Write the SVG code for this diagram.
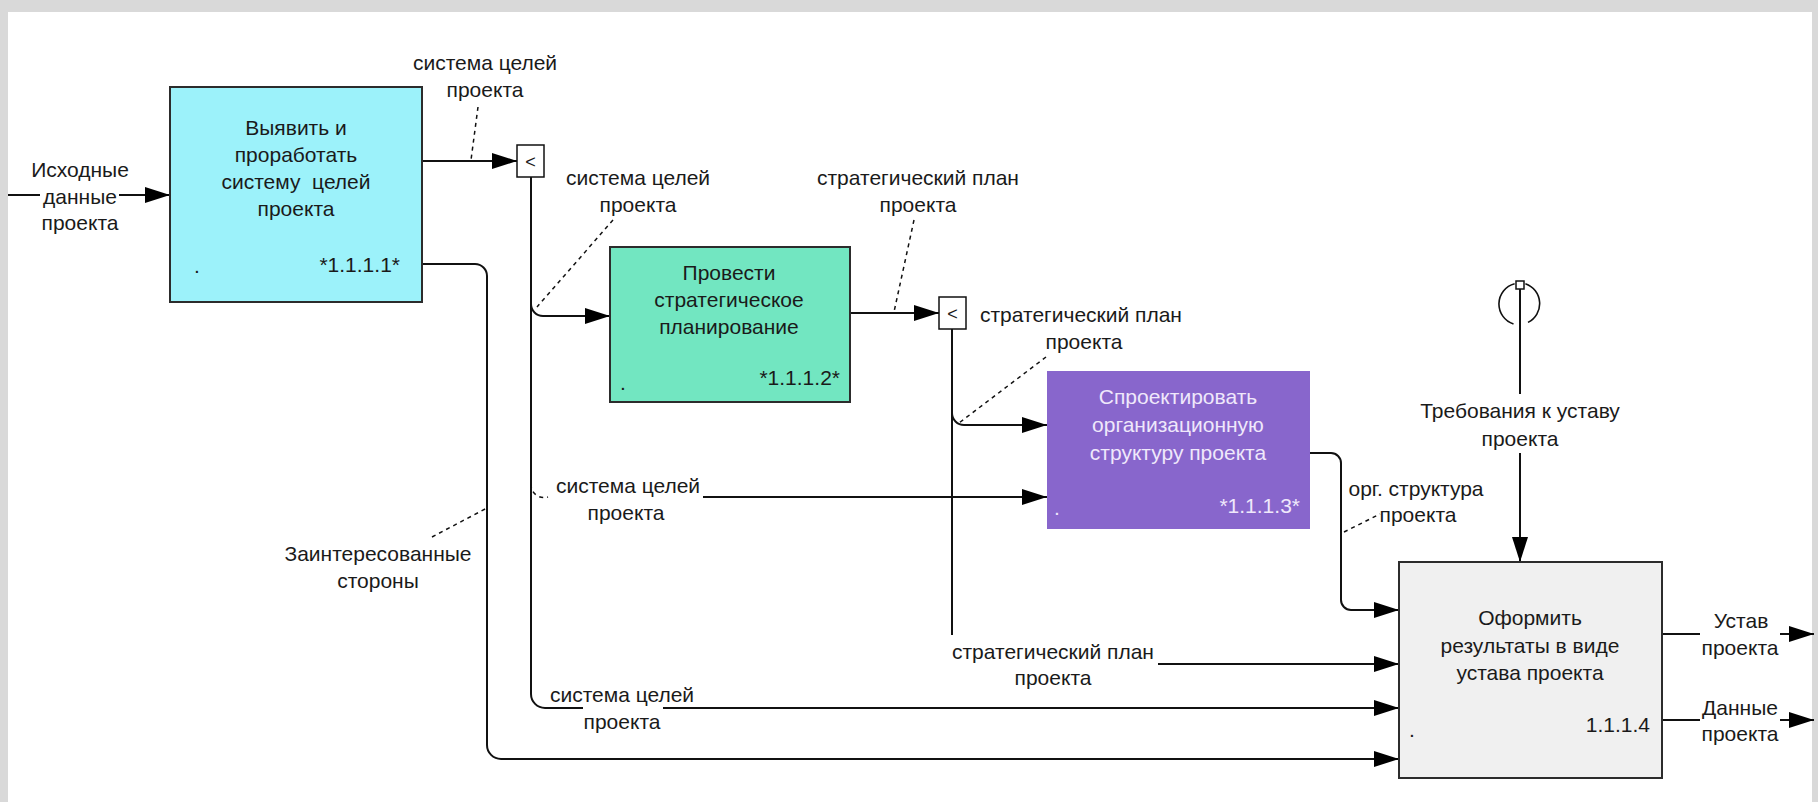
<svg xmlns="http://www.w3.org/2000/svg" width="1818" height="802" viewBox="0 0 1818 802">
<style>
text{font-family:"Liberation Sans",Arial,sans-serif;font-size:21px;fill:#1a1a1a}
.c{text-anchor:middle}
.e{text-anchor:end}
.ln{fill:none;stroke:#111;stroke-width:2}
.ld{fill:none;stroke:#111;stroke-width:1.5;stroke-dasharray:4 4}
.box{stroke:#2c2c2c;stroke-width:2}
.wt{fill:#efe8fb}
</style>
<defs>
<marker id="ah" markerUnits="userSpaceOnUse" markerWidth="25" markerHeight="16" refX="25" refY="8" orient="auto">
<path d="M0,0 L25,8 L0,16 z" fill="#000"/>
</marker>
</defs>
<rect x="0" y="0" width="1818" height="802" fill="#d9d9d9"/>
<rect x="8" y="12" width="1804" height="790" fill="#fff"/>

<g id="connectors">
<path class="ln" d="M8,195 L40,195"/>
<path class="ln" d="M119,195 L170,195" marker-end="url(#ah)"/>
<path class="ln" d="M422,161 L517,161" marker-end="url(#ah)"/>
<path class="ld" d="M478,107 L471,160"/>
<path class="ln" d="M531,177 L531,694 A14,14 0 0 0 545,708 L583,708"/>
<path class="ln" d="M663,708 L1399,708" marker-end="url(#ah)"/>
<path class="ln" d="M531,304 A12,12 0 0 0 543,316 L610,316" marker-end="url(#ah)"/>
<path class="ld" d="M613,220 L537,307"/>
<path class="ld" d="M531,484 A13,13 0 0 0 548,497"/>
<path class="ln" d="M703,497 L1047,497" marker-end="url(#ah)"/>
<path class="ln" d="M850,313 L939,313" marker-end="url(#ah)"/>
<path class="ld" d="M914,220 L894,312"/>
<path class="ln" d="M952,329 L952,635"/>
<path class="ln" d="M952,413 A12,12 0 0 0 964,425 L1047,425" marker-end="url(#ah)"/>
<path class="ld" d="M1046,357 L959,423"/>
<path class="ln" d="M1158,664 L1399,664" marker-end="url(#ah)"/>
<path class="ln" d="M1310,453 L1331,453 A10,10 0 0 1 1341,463 L1341,600 A10,10 0 0 0 1351,610 L1399,610" marker-end="url(#ah)"/>
<path class="ld" d="M1344,532 L1380,514"/>
<path class="ln" d="M422,264 L475,264 A12,12 0 0 1 487,276 L487,745 A14,14 0 0 0 501,759 L1399,759" marker-end="url(#ah)"/>
<path class="ld" d="M432,537 L487,508"/>
<path fill="none" stroke="#111" stroke-width="1.6" d="M1514.6,283.7 A21,21 0 0 0 1513.5,324 M1525.4,283.7 A21,21 0 0 1 1528,322.4"/>
<rect x="1516" y="281" width="8" height="8" fill="#fff" stroke="#111" stroke-width="1.5"/>
<path class="ln" d="M1520,289 L1520,394"/>
<path class="ln" d="M1520,453 L1520,562" marker-end="url(#ah)"/>
<path class="ln" d="M1662,634 L1700,634"/>
<path class="ln" d="M1780,634 L1814,634" marker-end="url(#ah)"/>
<path class="ln" d="M1662,720 L1700,720"/>
<path class="ln" d="M1780,720 L1814,720" marker-end="url(#ah)"/>
</g>

<g id="junction1">
<rect x="517" y="145" width="27" height="32" fill="#fff" stroke="#111" stroke-width="1.5"/>
<text class="c" x="530.5" y="168" style="font-size:18px">&lt;</text>
</g>
<g id="junction2">
<rect x="939" y="297" width="27" height="32" fill="#fff" stroke="#111" stroke-width="1.5"/>
<text class="c" x="952.5" y="320" style="font-size:18px">&lt;</text>
</g>

<g id="box1">
<rect class="box" x="170" y="87" width="252" height="215" fill="#9cf2fa"/>
<text class="c" x="296" y="135">Выявить и</text>
<text class="c" x="296" y="162">проработать</text>
<text class="c" x="296" y="189" xml:space="preserve">систему  целей</text>
<text class="c" x="296" y="216">проекта</text>
<text class="e" x="400" y="272">*1.1.1.1*</text>
<text x="194" y="273">.</text>
</g>
<g id="box2">
<rect class="box" x="610" y="247" width="240" height="155" fill="#72e6c1"/>
<text class="c" x="729" y="280">Провести</text>
<text class="c" x="729" y="307">стратегическое</text>
<text class="c" x="729" y="334">планирование</text>
<text class="e" x="840" y="385">*1.1.1.2*</text>
<text x="620" y="390">.</text>
</g>
<g id="box3">
<rect x="1047" y="371" width="263" height="158" fill="#8866cc"/>
<text class="c wt" x="1178" y="404">Спроектировать</text>
<text class="c wt" x="1178" y="432">организационную</text>
<text class="c wt" x="1178" y="460">структуру проекта</text>
<text class="e wt" x="1300" y="513">*1.1.1.3*</text>
<text class="wt" x="1054" y="515">.</text>
</g>
<g id="box4">
<rect class="box" x="1399" y="562" width="263" height="216" fill="#f0f0f0"/>
<text class="c" x="1530" y="625">Оформить</text>
<text class="c" x="1530" y="653">результаты в виде</text>
<text class="c" x="1530" y="680">устава проекта</text>
<text class="e" x="1650" y="732">1.1.1.4</text>
<text x="1409" y="737">.</text>
</g>

<g id="labels">
<text class="c" x="80" y="177">Исходные</text>
<text class="c" x="80" y="204">данные</text>
<text class="c" x="80" y="230">проекта</text>
<text class="c" x="485" y="70">система целей</text>
<text class="c" x="485" y="97">проекта</text>
<text class="c" x="638" y="185">система целей</text>
<text class="c" x="638" y="212">проекта</text>
<text class="c" x="918" y="185">стратегический план</text>
<text class="c" x="918" y="212">проекта</text>
<text class="c" x="1081" y="322">стратегический план</text>
<text class="c" x="1084" y="349">проекта</text>
<text class="c" x="628" y="493">система целей</text>
<text class="c" x="626" y="520">проекта</text>
<text class="c" x="622" y="702">система целей</text>
<text class="c" x="622" y="729">проекта</text>
<text class="c" x="1053" y="659">стратегический план</text>
<text class="c" x="1053" y="685">проекта</text>
<text class="c" x="378" y="561">Заинтересованные</text>
<text class="c" x="378" y="588">стороны</text>
<text class="c" x="1416" y="496">орг. структура</text>
<text class="c" x="1418" y="522">проекта</text>
<text class="c" x="1520" y="418">Требования к уставу</text>
<text class="c" x="1520" y="446">проекта</text>
<text class="c" x="1741" y="628">Устав</text>
<text class="c" x="1740" y="655">проекта</text>
<text class="c" x="1740" y="715">Данные</text>
<text class="c" x="1740" y="741">проекта</text>
</g>
</svg>
